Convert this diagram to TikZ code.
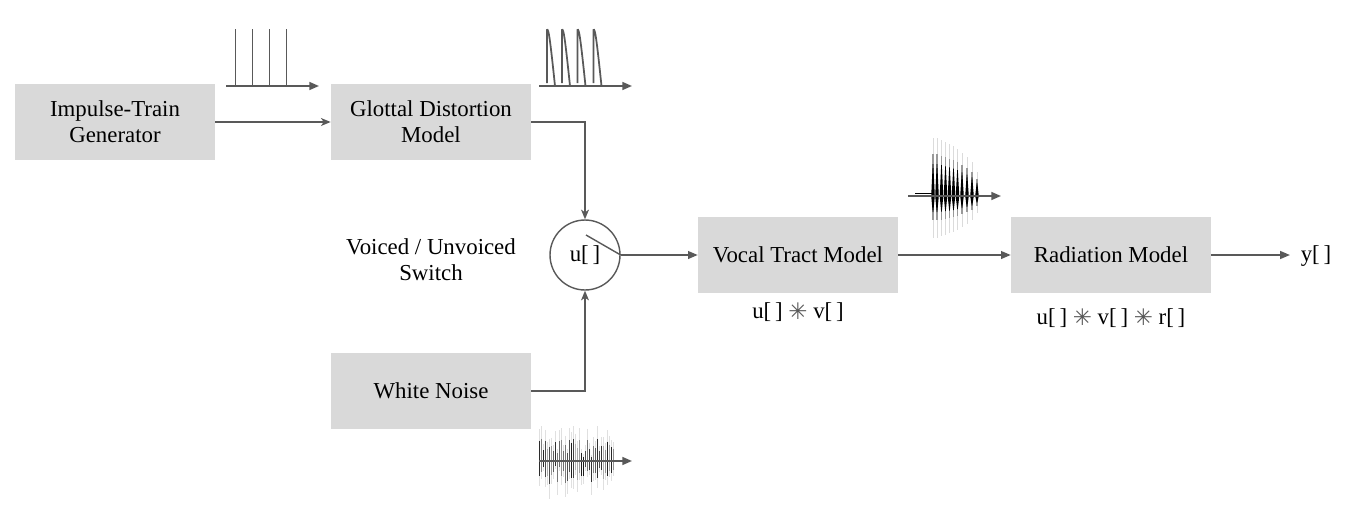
\documentclass[tikz,border=0pt]{standalone}
\usepackage{fontspec}
\setmainfont{Liberation Serif}
\newfontfamily\symfont{DejaVu Sans}
\usetikzlibrary{arrows.meta}
\usetikzlibrary{calc}
\usetikzlibrary{positioning}
\definecolor{boxgray}{HTML}{D9D9D9}
\definecolor{linegray}{HTML}{595959}
\newcommand{\conv}{{\symfont\fontsize{13}{13}\selectfont\raisebox{-0.3pt}{\textcolor{black!65}{✳}}}}
\begin{document}
\begin{tikzpicture}[x=0.02cm, y=-0.02cm, font=\fontsize{13}{15}\selectfont,
	block/.style={rectangle,fill=boxgray,minimum width=4cm,minimum height=1.52cm,inner sep=0pt,align=center},
	label_node/.style={inner sep=0pt,align=center},
	conn/.style={draw=linegray,line width=0.75pt,-{Triangle[length=5.5pt,width=4.5pt,fill=linegray]}},
	feed/.style={draw=linegray,line width=0.8pt,-{Stealth[length=5.5pt,width=4.5pt,inset=1.5pt,fill=linegray]}},
	axis/.style={draw=linegray,line width=1pt,-{Triangle[length=5.5pt,width=4.5pt,fill=linegray]}},
	trace/.style={draw=linegray,line width=1pt}]

	\useasboundingbox (0, 0) rectangle (1347, 511);

	\node[block] (impulse) at (115, 122) {Impulse-Train\\Generator};
	\node[block] (glottal) at (431, 122) {Glottal Distortion\\Model};
	\node[block] (noise) at (431, 391) {White Noise};
	\node[block] (tract) at (798, 255) {Vocal Tract Model};
	\node[block] (radiation) at (1111, 255) {Radiation Model};
	\node[circle,draw=linegray,line width=0.8pt,minimum size=1.4cm,inner sep=0pt] (switch) at (585, 255) {u[\,]};

	\node[label_node] (voiced) at (431, 260) {Voiced / Unvoiced\\Switch};
	\node[label_node] (tractout) at (798, 312) {u[\,] \conv{} v[\,]};
	\node[label_node] (radout) at (1111, 318) {u[\,] \conv{} v[\,] \conv{} r[\,]};
	\node[label_node, inner xsep=6pt] (output) at (1316, 256) {y[\,]};

	% switch blade
	\coordinate (blade) at (586, 235);
	\draw[draw=linegray,line width=0.8pt] (blade) -- (switch.east);

	\draw[feed] (impulse.east) -- (glottal.west);
	\draw[conn] (switch.east) -- (tract.west);
	\draw[conn] (tract.east) -- (radiation.west);
	\draw[conn] (radiation.east) -- (radiation.east -| output.west);
	\draw[feed] (glottal.east) -| (switch.north);
	\draw[feed] (noise.east) -| (switch.south);

	% impulse train
	\coordinate (a1) at (226, 86);
	\coordinate (a2) at (319, 86);
	\draw[axis] (a1) -- (a2);
	\foreach \x in {235.5, 252.5, 269.5, 286.5} {
		\draw[trace] (\x, 29) -- (\x, 86);
	}

	% glottal pulses
	\coordinate (b1) at (539, 86);
	\coordinate (b2) at (632, 86);
	\draw[axis] (b1) -- (b2);
	\foreach \x in {547, 562, 577.5, 593.5} {
		\draw[trace] (\x, 83) -- (\x, 30) .. controls ($(\x, 30)+(1.5, -2)$) and ($(\x, 30)+(3, 8)$) .. ($(\x, 30)+(8, 56)$);
	}

	% speech waveform
	\foreach \x/\h in {933/58, 937/58, 941.5/56, 945.5/54, 949.5/52, 953.5/50, 957.5/47, 962/43, 967/39, 972/34, 977/24} {
		\fill[black!14] (\x-0.5, 196-\h) rectangle (\x+0.5, 196+0.72*\h);
		\fill[black!40] (\x-0.6, 196-0.72*\h) rectangle (\x+0.6, 196+0.42*\h);
		\fill[black] (\x-1.8, 196) -- (\x-0.3, 196-0.55*\h) -- (\x+0.3, 196-0.55*\h) -- (\x+1.8, 196) -- (\x+0.3, 196+0.28*\h) -- (\x-0.3, 196+0.28*\h) -- cycle;
	}
	\coordinate (c1) at (908, 196);
	\coordinate (c2) at (1001, 196);
	\coordinate (c3) at (915, 193.5);
	\coordinate (c4) at (932, 193.5);
	\draw[black,line width=0.5pt] (c3) -- (c4);
	\draw[axis] (c1) -- (c2);

	% noise waveform
	\pgfmathsetseed{4217}
	\foreach \i in {0,...,37} {
		\pgfmathsetmacro{\xa}{539.5+\i*2}
		\pgfmathsetmacro{\up}{5+27*rnd}
		\pgfmathsetmacro{\dn}{5+27*rnd}
		\pgfmathsetmacro{\tone}{30+60*rnd}
		\draw[black!12,line width=0.5pt] (\xa, 461-1.1*\up) -- (\xa, 461+1.2*\dn);
		\draw[black!\tone,line width=0.8pt] (\xa, 461-0.7*\up) -- (\xa, 461+0.75*\dn);
	}
	\coordinate (d1) at (539, 461);
	\coordinate (d2) at (632, 461);
	\draw[axis] (d1) -- (d2);
\end{tikzpicture}
\end{document}
